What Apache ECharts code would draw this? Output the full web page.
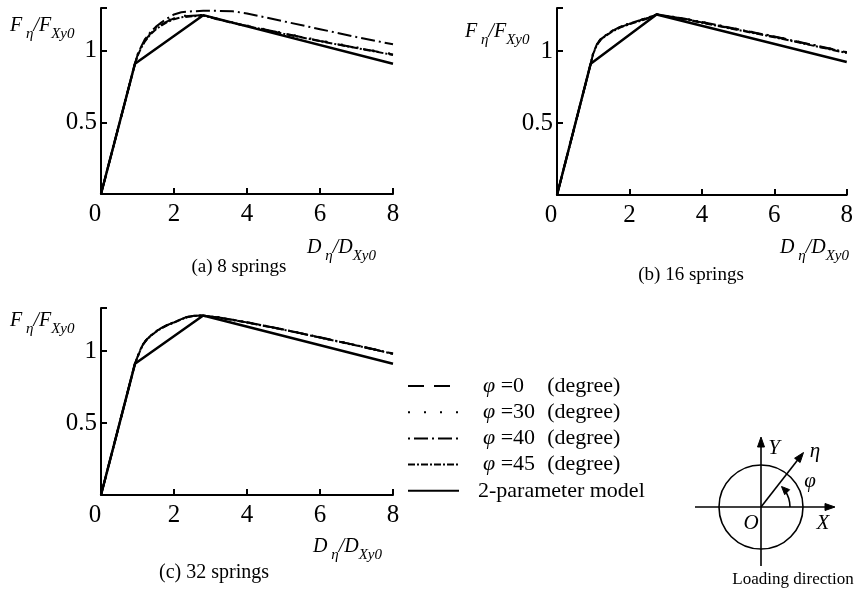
<!DOCTYPE html>
<html><head><meta charset="utf-8">
<script src="https://cdn.jsdelivr.net/npm/echarts@6/dist/echarts.min.js"></script>
<style>html,body{margin:0;padding:0;background:#fff}#c{width:856px;height:603px}</style>
</head><body><div id="c"></div>
<script>
// ---------- data ----------
const seriesNames = ['φ =0 (degree)', 'φ =30 (degree)', 'φ =40 (degree)', 'φ =45 (degree)', '2-parameter model'];
const xTicks = [0, 2, 4, 6, 8];
const yTicks = [0.5, 1];
const captions = ['(a) 8 springs', '(b) 16 springs', '(c) 32 springs'];

// (a) 8 springs
const xA = [0, 0.93, 1.0, 1.1, 1.2, 1.35, 1.5, 1.65, 1.8, 2.0, 2.2, 2.5, 2.8, 3.2, 3.6, 4, 5, 6, 7, 8];
const phi0A  = [0, 0.91, 0.97, 1.025, 1.07, 1.12, 1.155, 1.182, 1.205, 1.228, 1.24, 1.246, 1.25, 1.222, 1.197, 1.175, 1.122, 1.07, 1.022, 0.975];
const phi30A = [0, 0.91, 0.975, 1.03, 1.075, 1.125, 1.16, 1.188, 1.21, 1.233, 1.244, 1.25, 1.252, 1.225, 1.2, 1.178, 1.125, 1.073, 1.025, 0.978];
const phi40A = [0, 0.91, 0.97, 1.03, 1.08, 1.13, 1.168, 1.198, 1.225, 1.255, 1.27, 1.277, 1.28, 1.28, 1.277, 1.262, 1.207, 1.152, 1.097, 1.046];
const phi45A = [0, 0.91, 0.965, 1.02, 1.065, 1.115, 1.15, 1.177, 1.2, 1.222, 1.235, 1.242, 1.248, 1.22, 1.196, 1.174, 1.12, 1.068, 1.02, 0.972];
const modelXA = [0, 0.93, 2.8, 8];
const modelYA = [0, 0.91, 1.25, 0.91];

// (b) 16 springs
const xB = [0, 0.93, 1.0, 1.1, 1.2, 1.35, 1.5, 1.74, 2.0, 2.29, 2.5, 2.75, 3.5, 4, 5, 6, 7, 8];
const phi0B  = [0, 0.912, 0.985, 1.045, 1.08, 1.11, 1.135, 1.167, 1.19, 1.213, 1.23, 1.255, 1.225, 1.2, 1.15, 1.1, 1.045, 0.99];
const phi30B = [0, 0.912, 0.988, 1.048, 1.083, 1.113, 1.138, 1.17, 1.193, 1.216, 1.233, 1.256, 1.228, 1.203, 1.153, 1.103, 1.048, 0.993];
const phi40B = [0, 0.912, 0.987, 1.047, 1.082, 1.112, 1.137, 1.169, 1.192, 1.215, 1.232, 1.256, 1.227, 1.202, 1.152, 1.102, 1.047, 0.992];
const phi45B = [0, 0.912, 0.982, 1.042, 1.077, 1.107, 1.132, 1.164, 1.187, 1.21, 1.227, 1.254, 1.222, 1.197, 1.147, 1.097, 1.042, 0.987];
const modelXB = [0, 0.93, 2.75, 8];
const modelYB = [0, 0.912, 1.255, 0.924];

// (c) 32 springs
const xC = [0, 0.93, 1.0, 1.08, 1.16, 1.25, 1.35, 1.5, 1.62, 1.8, 2.0, 2.2, 2.35, 2.5, 2.7, 3.2, 4, 5, 6, 7, 8];
const phi0C  = [0, 0.912, 0.96, 1.01, 1.05, 1.08, 1.105, 1.135, 1.155, 1.18, 1.2, 1.222, 1.236, 1.244, 1.248, 1.235, 1.2, 1.15, 1.095, 1.04, 0.982];
const phi30C = [0, 0.912, 0.962, 1.012, 1.052, 1.082, 1.107, 1.137, 1.157, 1.182, 1.202, 1.223, 1.237, 1.245, 1.249, 1.236, 1.201, 1.151, 1.096, 1.041, 0.983];
const phi40C = [0, 0.912, 0.961, 1.011, 1.051, 1.081, 1.106, 1.136, 1.156, 1.181, 1.201, 1.223, 1.237, 1.245, 1.249, 1.236, 1.201, 1.151, 1.096, 1.041, 0.983];
const phi45C = [0, 0.912, 0.958, 1.008, 1.048, 1.078, 1.103, 1.133, 1.153, 1.178, 1.198, 1.221, 1.235, 1.243, 1.247, 1.234, 1.199, 1.149, 1.094, 1.039, 0.981];
const modelXC = [0, 0.93, 2.8, 8];
const modelYC = [0, 0.912, 1.248, 0.912];

// ---------- chart ----------
const FONT = '"Liberation Serif", "Times New Roman", serif';
const panels = [
  {x: xA, ys: [phi0A, phi30A, phi40A, phi45A], mx: modelXA, my: modelYA},
  {x: xB, ys: [phi0B, phi30B, phi40B, phi45B], mx: modelXB, my: modelYB},
  {x: xC, ys: [phi0C, phi30C, phi40C, phi45C], mx: modelXC, my: modelYC}
];
const grids = [
  {left: 101, top: 8, width: 292, height: 186},
  {left: 557, top: 8, width: 291, height: 187},
  {left: 101, top: 308, width: 292, height: 187}
];
const dashTypes = [[16, 10], [2, 14], [2, 4, 14, 4], [7, 2, 2, 2]];
const zip = (a, b) => a.map((v, i) => [v, b[i]]);

const xAxes = grids.map((g, i) => ({
  type: 'value', gridIndex: i, min: 0, max: 8, interval: 2,
  axisLine: {lineStyle: {color: '#000', width: 2}},
  axisTick: {inside: true, length: 6, lineStyle: {color: '#000', width: 2}},
  splitLine: {show: false},
  axisLabel: {
    color: '#000', fontFamily: FONT, fontSize: 25, margin: 8,
    formatter: v => v === 0 ? '{z|0}' : String(v),
    rich: {z: {fontFamily: FONT, fontSize: 25, color: '#000', padding: [0, 12, 0, 0]}}
  }
}));
const yAxes = grids.map((g, i) => ({
  type: 'value', gridIndex: i, min: 0, max: 1.3, interval: 0.5,
  axisLine: {lineStyle: {color: '#000', width: 2}},
  axisTick: {inside: true, length: 6, lineStyle: {color: '#000', width: 2}},
  splitLine: {show: false},
  axisLabel: {color: '#000', fontFamily: FONT, fontSize: 25, margin: 4,
    formatter: v => (yTicks.indexOf(v) >= 0 ? String(v) : '')}
}));

const series = [];
panels.forEach((p, pi) => {
  p.ys.forEach((ys, si) => {
    series.push({
      type: 'line', name: seriesNames[si], xAxisIndex: pi, yAxisIndex: pi,
      data: zip(p.x, ys), symbol: 'none',
      lineStyle: {color: '#000', width: 2, type: dashTypes[si]},
      itemStyle: {color: '#000'}, z: 2
    });
  });
  series.push({
    type: 'line', name: seriesNames[4], xAxisIndex: pi, yAxisIndex: pi,
    data: zip(p.mx, p.my), symbol: 'none',
    lineStyle: {color: '#000', width: 2.5, type: 'solid'},
    itemStyle: {color: '#000'}, z: 3
  });
});

// axis-name rich text
const nameRich = {
  M: {fontFamily: FONT, fontSize: 20, fontStyle: 'italic', fill: '#000', color: '#000', lineHeight: 26, verticalAlign: 'top'},
  s: {fontFamily: FONT, fontSize: 15, fontStyle: 'italic', fill: '#000', color: '#000', lineHeight: 16, verticalAlign: 'bottom'}
};
function axName(letter, x, y) {
  return {type: 'text', x: x, y: y, z: 10, style: {
    text: '{M|' + letter + '}{s| η}{M|/' + letter + '}{s|Xy0}',
    rich: nameRich, fill: '#000', align: 'left', verticalAlign: 'top',
    fontFamily: FONT, fontSize: 20
  }};
}
function txt(t, x, y, size, italic, align) {
  return {type: 'text', x: x, y: y, z: 10, style: {
    text: t, fill: '#000', fontFamily: FONT, fontSize: size, fontStyle: italic ? 'italic' : 'normal',
    align: align || 'center', verticalAlign: 'middle'
  }};
}
function arrowHead(tx, ty, dx, dy, len, half) {
  const L = Math.hypot(dx, dy); const ux = dx / L, uy = dy / L;
  const bx = tx - ux * len, by = ty - uy * len;
  return {type: 'polygon', z: 10, shape: {points: [[tx, ty], [bx - uy * half, by + ux * half], [bx + uy * half, by - ux * half]]},
    style: {fill: '#000', stroke: '#000', lineWidth: 1}};
}
const cx = 761, cy = 507;
const ln = (x1, y1, x2, y2) => ({type: 'line', z: 10, shape: {x1, y1, x2, y2}, style: {stroke: '#000', lineWidth: 1.6}});
const arcA = -Math.PI / 4, arcR = 29;
const arcEndX = cx + arcR * Math.cos(arcA), arcEndY = cy + arcR * Math.sin(arcA);

const graphic = [
  axName('F', 10, 16), axName('F', 465, 22), axName('F', 10, 311),
  axName('D', 307, 238), axName('D', 780, 238), axName('D', 313, 537),
  txt(captions[0], 239, 267, 19), txt(captions[1], 691, 275, 19), txt(captions[2], 214, 573, 20),
  // loading-direction diagram
  {type: 'circle', z: 10, shape: {cx: cx, cy: cy, r: 42}, style: {fill: 'none', stroke: '#000', lineWidth: 1.6}},
  ln(cx, 566, cx, 443), arrowHead(cx, 437, 0, -1, 10, 3.5),
  ln(695, cy, 829, cy), arrowHead(835, cy, 1, 0, 10, 3.5),
  ln(cx, cy, 800, 457), arrowHead(803.5, 452.5, 42.5, -54.5, 10, 3.5),
  {type: 'arc', z: 10, shape: {cx: cx, cy: cy, r: arcR, startAngle: arcA + 0.18, endAngle: 0, clockwise: true}, style: {fill: 'none', stroke: '#000', lineWidth: 1.6}},
  arrowHead(arcEndX, arcEndY, -0.707, -0.707, 8, 3.5),
  txt('Y', 774, 448, 21, true), txt('η', 815, 451, 21, true), txt('φ', 810, 481, 21, true),
  txt('O', 751, 523, 21, true), txt('X', 823, 523, 21, true),
  txt('Loading direction', 793, 580, 17)
];

const chart = echarts.init(document.getElementById('c'), null, {renderer: 'canvas'});
chart.setOption({
  animation: false,
  backgroundColor: '#fff',
  grid: grids,
  xAxis: xAxes,
  yAxis: yAxes,
  legend: {
    orient: 'vertical', left: 407, top: 375, padding: 0, itemWidth: 51, itemHeight: 14, itemGap: 4.2,
    data: seriesNames, selectedMode: false,
    itemStyle: {opacity: 0},
    formatter: function (name) {
      if (name.charAt(0) === 'φ') {
        const mid = name.slice(1, name.indexOf('(')).trim();
        return '{i|φ}{n| ' + mid + '}{d|(degree)}';
      }
      return '{m|' + name + '}';
    },
    textStyle: {
      color: '#000', fontFamily: FONT, fontSize: 22, padding: [0, 0, 0, 19],
      rich: {
        i: {fontFamily: FONT, fontSize: 22, fontStyle: 'italic', color: '#000'},
        n: {fontFamily: FONT, fontSize: 22, color: '#000', width: 52},
        d: {fontFamily: FONT, fontSize: 22, color: '#000'},
        m: {fontFamily: FONT, fontSize: 22, color: '#000', padding: [0, 0, 0, -5]}
      }
    }
  },
  series: series,
  graphic: graphic
});
</script>
</body></html>
